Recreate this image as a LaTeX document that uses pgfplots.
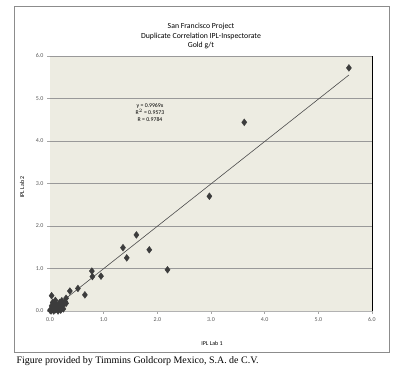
\documentclass[border=0pt]{standalone}
\usepackage{pgfplots}
\pgfplotsset{compat=1.18}
\usepackage{fontspec}
\setmainfont{Carlito}
\newfontfamily\capfont{Liberation Serif}
\definecolor{plotbg}{HTML}{EDECE2}
\definecolor{markc}{HTML}{3C3C3C}
\begin{document}
\begin{tikzpicture}[x=1bp,y=1bp]
\path[use as bounding box,fill=white] (0bp,0bp) rectangle (420bp,375bp);
\begin{axis}[
  at={(50bp,64bp)}, anchor=south west,
  scale only axis, width=322bp, height=255bp,
  xmin=0, xmax=6, ymin=0, ymax=6,
  axis background/.style={fill=plotbg},
  xtick={0,1,...,6}, ytick={0,1,...,6},
  xticklabel style={/pgf/number format/.cd,fixed,fixed zerofill,precision=1},
  yticklabel style={/pgf/number format/.cd,fixed,fixed zerofill,precision=1},
  /pgf/number format/assume math mode=true,
  tick label style={font=\fontsize{6}{7}\selectfont, text=gray!70!black},
  ymajorgrids, grid style={gray!80, line width=0.6bp},
  axis x line*=bottom, axis y line*=left,
  x axis line style={gray!60},
  y axis line style={draw=none},
  tick style={gray!70, line width=0.5bp},
  major tick length=3bp,
  xtick align=outside, ytick align=outside,
  clip=false,
]
\addplot[only marks, mark=diamond*, mark size=3.4bp, color=markc] coordinates {
(5.57,5.72) (3.62,4.44) (2.97,2.70) (2.19,0.97) (1.85,1.44) (1.61,1.79)
(1.36,1.49) (1.43,1.25) (0.78,0.94) (0.79,0.81) (0.95,0.82)
(0.65,0.38) (0.52,0.53) (0.37,0.47) (0.03,0.36)
(0.30,0.30) (0.28,0.22) (0.25,0.15) (0.22,0.24) (0.20,0.10) (0.18,0.20)
(0.15,0.08) (0.12,0.15) (0.10,0.03) (0.08,0.10) (0.05,0.05) (0.02,0.00)
(0.00,0.02) (0.05,0.20) (0.10,0.25) (0.03,0.12) (0.15,0.00) (0.20,0.02)
(0.25,0.05) (0.07,0.00) (0.30,0.18) (0.17,0.13) (0.12,0.05)
};
\addplot[black!70, line width=0.6bp] coordinates {(0,0) (5.57,5.5527)};
\draw[black, line width=0.9bp] (axis cs:6,0) -- (axis cs:6,6);
\end{axis}
\draw[black!45,line width=1bp] (14bp,22bp) rectangle (389bp,368bp);
\node[font=\fontsize{7.8}{9.5}\selectfont, align=center] at (201bp,339bp) {San Francisco Project\\Duplicate Correlation IPL-Inspectorate\\Gold g/t};
\node[font=\fontsize{5.8}{7}\selectfont, align=center] at (150bp,262bp) {y = 0.9969x\\R$^2$ = 0.9573\\R = 0.9784};
\node[font=\fontsize{6}{7}\selectfont] at (212bp,32bp) {IPL Lab 1};
\node[font=\fontsize{6}{7}\selectfont, rotate=90] at (22bp,188bp) {IPL Lab 2};
\node[font=\capfont\fontsize{10}{11}\selectfont, anchor=west] at (13bp,14bp) {Figure provided by Timmins Goldcorp Mexico, S.A. de C.V.};
\end{tikzpicture}
\end{document}
